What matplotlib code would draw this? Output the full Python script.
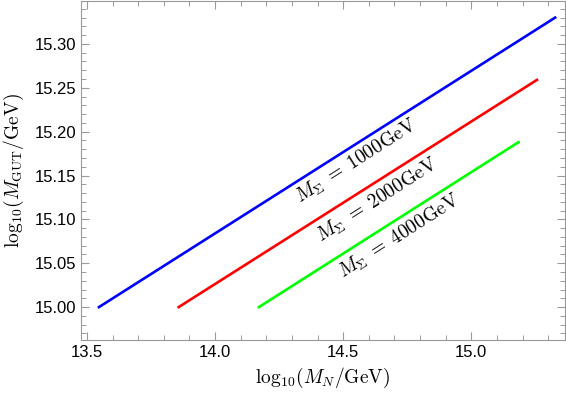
import matplotlib
matplotlib.use("Agg")
import matplotlib.pyplot as plt
from matplotlib.ticker import MultipleLocator, FormatStrFormatter

plt.rcParams['mathtext.fontset'] = 'cm'
plt.rcParams['font.family'] = ['Liberation Sans', 'DejaVu Sans']

# endpoints of each line: log10(M_N/GeV), log10(M_GUT/GeV)
blue_x = [13.547, 15.327]
blue_y = [15.000, 15.330]
red_x = [13.858, 15.256]
red_y = [15.000, 15.259]
green_x = [14.171, 15.184]
green_y = [15.000, 15.188]

labels = [r'$M_\Sigma\;=\;1000{\rm GeV}$', r'$M_\Sigma\;=\;2000{\rm GeV}$', r'$M_\Sigma\;=\;4000{\rm GeV}$']
label_x = [14.55, 14.635, 14.72]
label_y = [15.166, 15.122, 15.081]

fig = plt.figure(figsize=(5.66, 3.98), dpi=100)
ax = fig.add_axes([0.1431, 0.1457, 0.8545, 0.852])

ax.plot(blue_x, blue_y, color='#0000ff', lw=1.9)
ax.plot(red_x, red_y, color='#ff0000', lw=1.9)
ax.plot(green_x, green_y, color='#00ff00', lw=1.9)

for t, x, y in zip(labels, label_x, label_y):
    ax.text(x, y, t, rotation=32.5, ha='center', va='center', fontsize=14, rotation_mode='anchor')

ax.set_xlim(13.477, 15.364)
ax.set_ylim(14.9625, 15.349)
ax.xaxis.set_major_locator(MultipleLocator(0.5))
ax.xaxis.set_minor_locator(MultipleLocator(0.1))
ax.yaxis.set_major_locator(MultipleLocator(0.05))
ax.yaxis.set_minor_locator(MultipleLocator(0.01))
ax.xaxis.set_major_formatter(FormatStrFormatter('%.1f'))
ax.yaxis.set_major_formatter(FormatStrFormatter('%.2f'))

for s in ax.spines.values():
    s.set_color('#999999')
    s.set_linewidth(0.8)
ax.tick_params(which='both', direction='in', top=True, right=True, color='#999999', labelsize=12, labelcolor='black')
ax.tick_params(which='major', length=6, width=0.8)
ax.tick_params(which='minor', length=3.5, width=0.7)

ax.set_xlabel(r'${\rm log}_{10}(M_N/{\rm GeV})$', fontsize=14, labelpad=4)
ax.set_ylabel(r'${\rm log}_{10}(M_{\rm GUT}/{\rm GeV})$', fontsize=14, labelpad=6)

fig.savefig('out.png', dpi=100)
